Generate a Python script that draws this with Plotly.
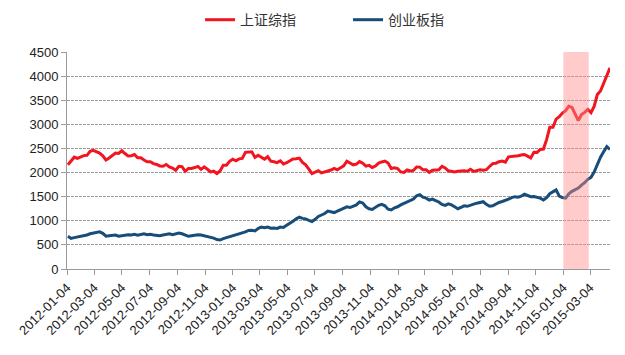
import pandas as pd
import plotly.graph_objects as go

# Weekly (Friday) closes, 2012-01-06 .. 2015-04-17
sse_2012 = [2163, 2244, 2319, 2292, 2330, 2351, 2357, 2439, 2460, 2439, 2404, 2349, 2262,
            2302, 2359, 2406, 2396, 2452, 2394, 2344, 2350, 2373, 2306, 2306, 2260, 2225,
            2223, 2185, 2168, 2137, 2132, 2168, 2115, 2092, 2047, 2128, 2123, 2026, 2086,
            2086, 2104, 2128, 2066, 2117, 2069, 2014, 2028, 1980, 2033, 2151, 2153, 2233]
sse_2013 = [2276, 2243, 2284, 2292, 2419, 2432, 2432, 2314, 2359, 2318, 2278, 2328, 2237,
            2225, 2206, 2244, 2177, 2205, 2246, 2283, 2288, 2300, 2211, 2162, 2073, 1979,
            2007, 2039, 1992, 2010, 2029, 2052, 2086, 2057, 2098, 2139, 2236, 2191, 2160,
            2174, 2228, 2193, 2133, 2149, 2106, 2135, 2197, 2220, 2238, 2196, 2084, 2101]
sse_2014 = [2083, 2013, 2004, 2054, 2033, 2044, 2115, 2113, 2056, 2057, 2004, 2047, 2046,
            2058, 2130, 2097, 2036, 2026, 2011, 2026, 2034, 2039, 2029, 2070, 2024, 2036,
            2059, 2047, 2059, 2126, 2185, 2194, 2226, 2240, 2217, 2326, 2331, 2329, 2347,
            2364, 2374, 2341, 2302, 2420, 2418, 2478, 2487, 2683, 2938, 2938, 3109, 3157]
sse_2015 = [3235, 3285, 3376, 3351, 3210, 3076, 3203, 3247, 3310, 3241, 3372, 3617, 3691,
            3863, 4035, 4170]

gem_2012 = [680, 635, 650, 660, 672, 690, 705, 730, 745, 760, 770, 740, 680,
            690, 700, 705, 680, 695, 700, 712, 705, 718, 700, 722, 730, 712,
            720, 705, 700, 690, 705, 715, 728, 710, 722, 745, 730, 700, 678,
            690, 700, 712, 705, 690, 670, 650, 640, 610, 600, 630, 650, 672]
gem_2013 = [685, 700, 725, 745, 770, 800, 805, 790, 840, 870, 855, 870, 845,
            850, 840, 870, 860, 905, 940, 990, 1040, 1075, 1050, 1040, 1010, 985,
            1030, 1090, 1120, 1150, 1200, 1185, 1170, 1200, 1230, 1250, 1290, 1275, 1300,
            1330, 1390, 1370, 1290, 1250, 1235, 1280, 1320, 1340, 1310, 1240, 1225, 1270]
gem_2014 = [1290, 1330, 1360, 1400, 1420, 1450, 1520, 1540, 1490, 1470, 1430, 1450, 1420,
            1390, 1340, 1320, 1350, 1330, 1290, 1250, 1280, 1310, 1300, 1330, 1345, 1365,
            1380, 1395, 1340, 1300, 1310, 1350, 1380, 1400, 1420, 1450, 1480, 1500, 1490,
            1510, 1550, 1530, 1500, 1505, 1490, 1470, 1430, 1480, 1560, 1600, 1640, 1510]
gem_2015 = [1480, 1470, 1560, 1610, 1640, 1680, 1740, 1790, 1860, 1900, 2010, 2180, 2320,
            2430, 2540, 2480]

sse = sse_2012 + sse_2013 + sse_2014 + sse_2015
gem = gem_2012 + gem_2013 + gem_2014 + gem_2015
dates = pd.date_range("2012-01-06", periods=len(sse), freq="W-FRI")

tick_labels = ["2012-01-04", "2012-03-04", "2012-05-04", "2012-07-04", "2012-09-04",
               "2012-11-04", "2013-01-04", "2013-03-04", "2013-05-04", "2013-07-04",
               "2013-09-04", "2013-11-04", "2014-01-04", "2014-03-04", "2014-05-04",
               "2014-07-04", "2014-09-04", "2014-11-04", "2015-01-04", "2015-03-04"]
shade_period = ["2015-01-04", "2015-03-01"]
series_names = ["上证综指", "创业板指"]

fig = go.Figure()
fig.add_trace(go.Scatter(x=dates, y=sse, mode="lines", name=series_names[0],
                         line=dict(color="#F2141E", width=3)))
fig.add_trace(go.Scatter(x=dates, y=gem, mode="lines", name=series_names[1],
                         line=dict(color="#174D78", width=3)))

fig.add_shape(type="rect", xref="x", yref="paper", x0=shade_period[0], x1=shade_period[1],
              y0=0, y1=1, fillcolor="rgba(255,140,140,0.45)", line=dict(width=0),
              layer="above")

fig.update_layout(
    width=617, height=347,
    margin=dict(l=59, r=15, t=44, b=86, autoexpand=False),
    paper_bgcolor="white", plot_bgcolor="white",
    font=dict(family="Liberation Sans, Arial, sans-serif", size=13, color="#222"),
    showlegend=True,
    legend=dict(orientation="h", x=0.245, xanchor="left", y=1.147, yanchor="middle",
                font=dict(family="Noto Sans CJK SC", size=14, color="#333"),
                entrywidth=103, entrywidthmode="pixels", itemwidth=30),
)
fig.update_xaxes(
    type="date", range=["2012-01-04", "2015-04-17"], automargin=False,
    tickmode="array", tickvals=tick_labels, ticktext=tick_labels, tickangle=-45,
    showline=True, linecolor="#9a9a9a", linewidth=1,
    ticks="outside", ticklen=5, tickcolor="#9a9a9a",
    showgrid=False, zeroline=False,
    tickfont=dict(size=13, color="#222"),
)
fig.update_yaxes(
    range=[0, 4500], dtick=500, tick0=0, automargin=False,
    showline=True, linecolor="#9a9a9a", linewidth=1,
    ticks="outside", ticklen=5, tickcolor="#9a9a9a",
    showgrid=True, gridcolor="#9a9a9a", gridwidth=1, griddash="3px,1px",
    zeroline=False, tickfont=dict(size=13, color="#222"),
)

fig.write_html("out.html")
